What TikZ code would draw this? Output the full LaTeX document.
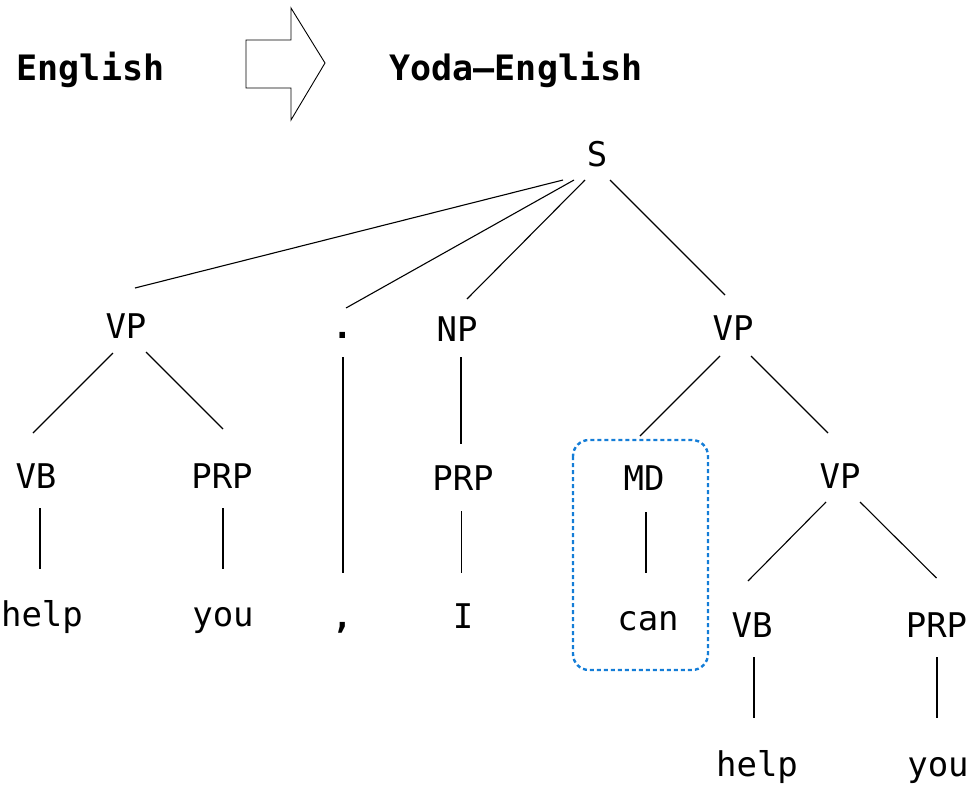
\documentclass[tikz,border=0pt]{standalone}
\usepackage{fontspec}
\newfontfamily\treefont{DejaVu Sans Mono}
\definecolor{hlblue}{RGB}{20,125,215}
\begin{document}
\begin{tikzpicture}[x=1pt,y=-1pt,
  lab/.style={anchor=base,inner sep=0pt,font=\treefont\fontsize{34}{40}\selectfont},
  punct/.style={lab,font=\treefont\bfseries\fontsize{34}{40}\selectfont},
  head/.style={anchor=base,inner sep=0pt,font=\treefont\bfseries\fontsize{35}{42}\selectfont},
  edge/.style={draw=black,line width=1.1pt},
  hl/.style={draw=hlblue,line width=2.4pt,dash pattern=on 4pt off 3pt,rounded corners=16pt},
  blockarrow/.style={draw=black,line width=0.9pt,fill=white}]
\useasboundingbox (0,0) rectangle (975,785);
% header
\node[head] (eng) at (90.5,80) {English};
\node[head] (yoda) at (516,80) {Yoda–English};
\draw[blockarrow] (246,40) -- (291,40) -- (291,8) -- (325,63) -- (291,120) -- (291,88) -- (246,88) -- cycle;
% tree nodes
\node[lab] (S) at (597,166) {S};
\node[lab] (VPa) at (126,338) {VP};
\node[punct] (dot) at (343,338) {.};
\node[lab] (NP) at (457,341) {NP};
\node[lab] (VPb) at (733,340) {VP};
\node[lab] (VBa) at (36,488) {VB};
\node[lab] (PRPa) at (222,488) {PRP};
\node[lab] (PRPb) at (463,490) {PRP};
\node[lab] (MD) at (644,490) {MD};
\node[lab] (VPc) at (840,488) {VP};
\node[lab] (helpa) at (42,626) {help};
\node[lab] (youa) at (223,626) {you};
\node[punct] (comma) at (343,628) {,};
\node[lab] (I) at (463,628) {I};
\node[lab] (can) at (648,630) {can};
\node[lab] (VBb) at (752,637) {VB};
\node[lab] (PRPc) at (936.5,637) {PRP};
\node[lab] (helpb) at (757,776) {help};
\node[lab] (youb) at (938,776) {you};
% edges
\draw[edge] ([shift={(-34,14)}]S.base) -- ([shift={(9,-50)}]VPa.base);
\draw[edge] ([shift={(-23,14)}]S.base) -- ([shift={(3,-30)}]dot.base);
\draw[edge] ([shift={(-12,14)}]S.base) -- ([shift={(10,-42)}]NP.base);
\draw[edge] ([shift={(13,14)}]S.base) -- ([shift={(-8,-45)}]VPb.base);
\draw[edge] ([shift={(-13,15)}]VPa.base) -- ([shift={(-3,-55)}]VBa.base);
\draw[edge] ([shift={(20,14)}]VPa.base) -- ([shift={(1,-59)}]PRPa.base);
\draw[edge] ([shift={(4,20)}]VBa.base) -- ([shift={(-2,-57)}]helpa.base);
\draw[edge] ([shift={(1,20)}]PRPa.base) -- ([shift={(0,-57)}]youa.base);
\draw[edge] ([shift={(0,19)}]dot.base) -- ([shift={(0,-55)}]comma.base);
\draw[edge] ([shift={(4,16)}]NP.base) -- ([shift={(-2,-46)}]PRPb.base);
\draw[edge] ([shift={(-1.5,21)}]PRPb.base) -- ([shift={(-1.5,-55)}]I.base);
\draw[edge] ([shift={(-13,16)}]VPb.base) -- ([shift={(-4,-54)}]MD.base);
\draw[edge] ([shift={(18,16)}]VPb.base) -- ([shift={(-12,-55)}]VPc.base);
\draw[edge] ([shift={(2,22)}]MD.base) -- ([shift={(-2,-57)}]can.base);
\draw[edge] ([shift={(-14,14)}]VPc.base) -- ([shift={(-4,-56)}]VBb.base);
\draw[edge] ([shift={(20,14)}]VPc.base) -- ([shift={(0,-59)}]PRPc.base);
\draw[edge] ([shift={(2,20)}]VBb.base) -- ([shift={(-3,-58)}]helpb.base);
\draw[edge] ([shift={(0.5,20)}]PRPc.base) -- ([shift={(-1,-58)}]youb.base);
% highlight box
\draw[hl] (573,440) rectangle (708,670);
\end{tikzpicture}
\end{document}
